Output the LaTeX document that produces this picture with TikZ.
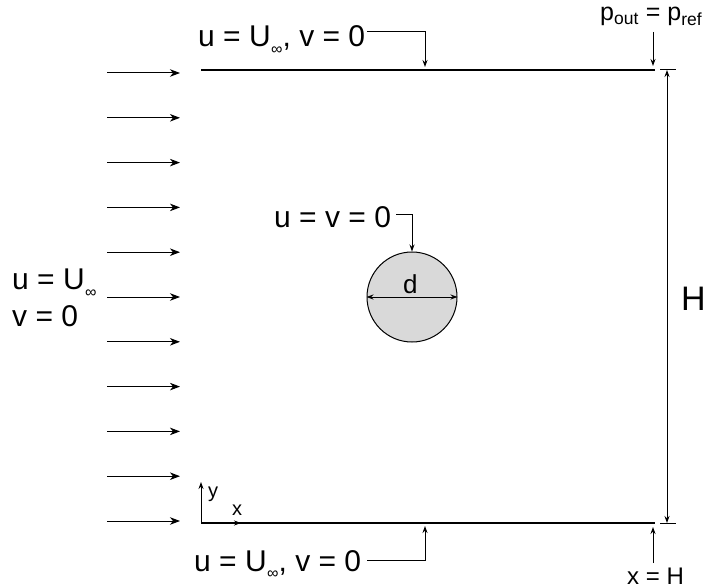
\documentclass[tikz,border=0pt]{standalone}
\usepackage{fontspec}
\setmainfont{Liberation Sans}
\usetikzlibrary{arrows.meta}
\newcommand{\infsub}{\kern0.5pt\raisebox{-0.45ex}{\fontsize{16}{16}\selectfont ∞}}
\begin{document}
\begin{tikzpicture}[x=1pt,y=-1pt,
  lbl/.style={inner sep=0pt,anchor=base west,font=\fontsize{30}{34}\selectfont},
  wall/.style={line width=2.2pt},
  thin/.style={line width=1pt},
  tip/.style={-{Stealth[length=7pt,width=5pt]}},
  inflow/.style={thin,-{Stealth[length=10pt,width=7.5pt,inset=3pt]}}]
\useasboundingbox (0,0) rectangle (707,588);
% walls
\coordinate (tw1) at (201,70);
\coordinate (tw2) at (655,70);
\coordinate (bw1) at (201,523);
\coordinate (bw2) at (655,523);
\draw[wall] (tw1) -- (tw2);
\draw[wall] (bw1) -- (bw2);
% inflow arrows
\foreach \i in {0,...,10}{
  \coordinate (ia\i) at (107,73+44.8*\i);
  \coordinate (ib\i) at (180,73+44.8*\i);
  \draw[inflow] (ia\i) -- (ib\i);
}
% inlet label
\node[lbl] (inl1) at (12,290) {u = U\infsub};
\node[lbl] (inl2) at (12,326) {v = 0};
% top label
\node[lbl] (tl) at (198,47) {u = U\infsub, v = 0};
\coordinate (tla) at (367,32);
\coordinate (tlb) at (425,67);
\draw[thin,tip] (tla) -| (tlb);
% bottom label
\node[lbl] (bl) at (194,571) {u = U\infsub, v = 0};
\coordinate (bla) at (367,560);
\coordinate (blb) at (425,526);
\draw[thin,tip] (bla) -| (blb);
% outlet pressure
\node[lbl,font=\fontsize{25}{28}\selectfont] (pl) at (600,21) {p\textsubscript{out} = p\textsubscript{ref}};
\coordinate (pa) at (653,32);
\coordinate (pb) at (653,66);
\draw[thin,tip] (pa) -- (pb);
% x = H
\node[lbl,font=\fontsize{24}{28}\selectfont] (xl) at (627,584) {x = H};
\coordinate (xa) at (653,563);
\coordinate (xb) at (653,527);
\draw[thin,tip] (xa) -- (xb);
% dimension H
\coordinate (dt) at (667,70);
\coordinate (db) at (667,523);
\draw[thin] (660,70) -- (676,70);
\draw[thin] (660,523) -- (676,523);
\draw[thin,{Stealth[length=7pt,width=5pt]}-{Stealth[length=7pt,width=5pt]}] (dt) -- (db);
\node[lbl,font=\fontsize{34}{38}\selectfont] (Hl) at (681,310) {H};
% cylinder
\node[circle,draw,thin,fill=black!15,minimum size=90pt,inner sep=0pt] (cyl) at (412,297) {};
\draw[thin,{Stealth[length=7pt,width=5pt]}-{Stealth[length=7pt,width=5pt]}] (cyl.west) -- (cyl.east);
\node[lbl,font=\fontsize{26}{30}\selectfont] (dl) at (403,293) {d};
% cylinder label
\node[lbl] (cl) at (274,228) {u = v = 0};
\coordinate (cla) at (396,215);
\draw[thin,tip] (cla) -| (cyl.north);
% axes
\coordinate (ay) at (201,482);
\coordinate (ax) at (241,523);
\draw[thin,tip] (bw1) -- (ay);
\draw[thin,tip] (bw1) -- (ax);
\node[lbl,font=\fontsize{20}{22}\selectfont] (yl) at (208,497) {y};
\node[lbl,font=\fontsize{20}{22}\selectfont] (xlab) at (232,515) {x};
\end{tikzpicture}
\end{document}
